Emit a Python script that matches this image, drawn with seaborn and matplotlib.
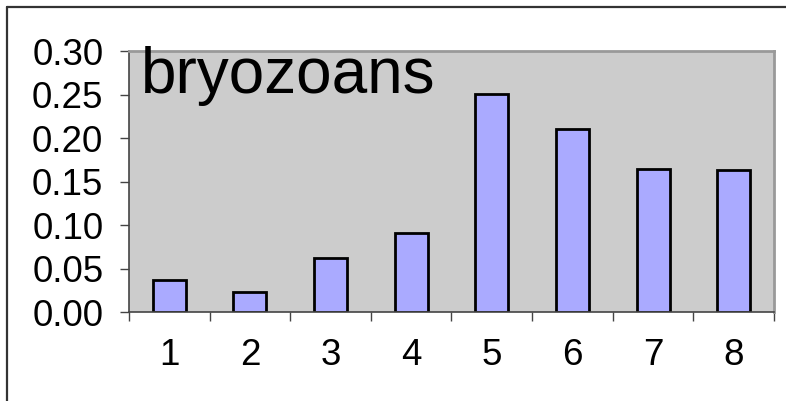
import pandas as pd
import numpy as np
import matplotlib.pyplot as plt
import seaborn as sns
from matplotlib.lines import Line2D

# ── Data ──────────────────────────────────────────────────────────────────────
samples = ['1', '2', '3', '4', '5', '6', '7', '8']
values = [0.037, 0.023, 0.062, 0.091, 0.251, 0.210, 0.164, 0.163]
y_ticks = [0.00, 0.05, 0.10, 0.15, 0.20, 0.25, 0.30]
label = 'bryozoans'

df = pd.DataFrame({'Sample': samples, 'Value': values})

# ── Style ─────────────────────────────────────────────────────────────────────
sns.set_style('white')
plt.rcParams['font.family'] = ['Liberation Sans', 'DejaVu Sans']
plt.rcParams['text.color'] = 'black'
plt.rcParams['xtick.color'] = 'black'
plt.rcParams['ytick.color'] = 'black'

fig = plt.figure(figsize=(7.86, 4.01), dpi=100)
ax = fig.add_axes([0.1641, 0.2219, 0.8206, 0.6509])
ax.set_facecolor('#cccccc')

sns.barplot(data=df, x='Sample', y='Value', ax=ax, color='#aaaaff',
            width=0.41, edgecolor='black', linewidth=2, saturation=1)

# ── Axes ──────────────────────────────────────────────────────────────────────
ax.set_xlim(-0.5, len(samples) - 0.5)
ax.set_ylim(0, 0.30)
ax.set_yticks(y_ticks)
ax.set_yticklabels([f'{t:.2f}' for t in y_ticks])
ax.set_xticks(np.arange(len(samples) + 1) - 0.5)
ax.set_xticklabels([])
ax.set_xticks(np.arange(len(samples)), minor=True)
ax.set_xticklabels(samples, minor=True)
ax.set_xlabel('')
ax.set_ylabel('')

ax.tick_params(axis='y', which='major', direction='out', length=6.5, width=1,
               color='#444444', labelcolor='black', labelsize=26.5, pad=12, left=True)
ax.tick_params(axis='x', which='major', direction='out', length=6.5, width=1,
               color='#444444', bottom=True)
ax.tick_params(axis='x', which='minor', length=0, labelsize=26.5,
               labelcolor='black', pad=19)

for side in ['left', 'bottom']:
    ax.spines[side].set_color('#444444')
    ax.spines[side].set_linewidth(1.2)
for side in ['top', 'right']:
    ax.spines[side].set_visible(True)
    ax.spines[side].set_color('#999999')
    ax.spines[side].set_linewidth(2)

ax.text(0.019, 0.839, label, transform=ax.transAxes, fontsize=46,
        ha='left', va='baseline', color='black')

# ── Outer frame (top and left only) ──────────────────────────────────────────
fig.add_artist(Line2D([7 / 786, 1], [1 - 6.5 / 401, 1 - 6.5 / 401],
                      transform=fig.transFigure, color='#333333', linewidth=1.6))
fig.add_artist(Line2D([7 / 786, 7 / 786], [0, 1 - 6.5 / 401],
                      transform=fig.transFigure, color='#333333', linewidth=1.6))

plt.savefig('out.png', dpi=100)
plt.close()
